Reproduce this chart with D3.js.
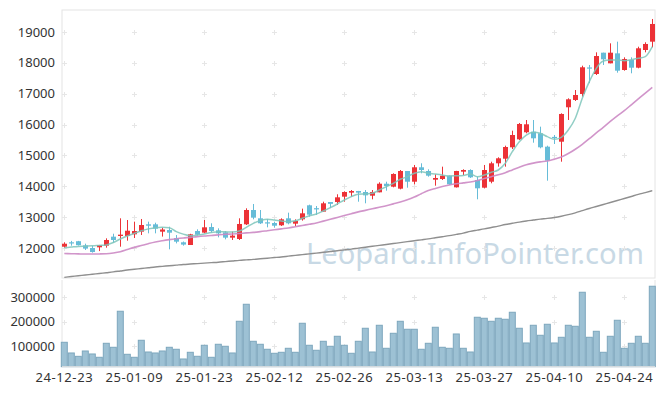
<!DOCTYPE html>
<html>
<head>
<meta charset="utf-8">
<script src="https://cdn.jsdelivr.net/npm/d3@7"></script>
<style>
html,body{margin:0;padding:0;background:#fff;}
svg{display:block;}
text{font-family:"Noto Sans","Open Sans",sans-serif;fill:#333;}
</style>
</head>
<body>
<svg id="chart" width="665" height="396"></svg>
<script>
const dates = ["24-12-23","24-12-24","24-12-26","24-12-27","24-12-30","25-01-02","25-01-03","25-01-06","25-01-07","25-01-08",
"25-01-09","25-01-10","25-01-13","25-01-14","25-01-15","25-01-16","25-01-17","25-01-20","25-01-21","25-01-22",
"25-01-23","25-01-24","25-01-31","25-02-03","25-02-04","25-02-05","25-02-06","25-02-07","25-02-10","25-02-11",
"25-02-12","25-02-13","25-02-14","25-02-17","25-02-18","25-02-19","25-02-20","25-02-21","25-02-24","25-02-25",
"25-02-26","25-02-27","25-02-28","25-03-04","25-03-05","25-03-06","25-03-07","25-03-10","25-03-11","25-03-12",
"25-03-13","25-03-14","25-03-17","25-03-18","25-03-19","25-03-20","25-03-21","25-03-24","25-03-25","25-03-26",
"25-03-27","25-03-28","25-03-31","25-04-01","25-04-02","25-04-03","25-04-04","25-04-07","25-04-08","25-04-09",
"25-04-10","25-04-11","25-04-14","25-04-15","25-04-16","25-04-17","25-04-18","25-04-21","25-04-22","25-04-23",
"25-04-24","25-04-25","25-04-28","25-04-29","25-04-30"];

const open = [12042,12185,12220,12085,12000,12022,12075,12367,12389,12389,
12443,12529,12767,12767,12529,12583,12320,12185,12097,12550,
12497,12680,12573,12508,12335,12292,12767,13231,12962,12832,
12810,12735,12962,12788,12929,13383,13290,13178,13490,13490,
13663,13793,13847,13814,13695,13804,14083,13986,13922,14495,
14148,14615,14495,14213,14236,14343,13966,14472,14527,14203,
13954,14148,14744,14893,15262,15521,15749,15769,15716,15283,
15600,15444,16559,16796,16990,17850,17638,18328,17983,18307,
17767,18091,17842,18415,18685];
const high = [12185,12230,12230,12140,12065,12100,12313,12463,12962,12907,
12853,12940,12853,12820,12660,12690,12420,12210,12460,12605,
12907,12800,12637,12550,12530,12962,13286,13426,13231,12940,
12853,12962,13145,12929,13275,13404,13361,13500,13490,13740,
13836,13879,13850,13879,13879,14129,14148,14420,14527,14495,
14690,14744,14550,14388,14635,14350,14500,14550,14550,14310,
14690,14796,14939,15315,15801,16050,16147,16147,15931,15315,
15661,16364,16850,17119,17907,17930,18340,18328,18631,18685,
18178,18178,18522,18665,19420];
const low = [12010,12075,12080,11935,11850,11900,12010,12172,12042,12237,
12324,12421,12475,12475,12370,11957,12150,12075,12097,12400,
12475,12497,12346,12280,12260,12260,12745,12929,12778,12670,
12658,12713,12767,12713,12886,13015,13070,13178,13290,13393,
13500,13663,13500,13448,13577,13804,13857,13966,13900,13954,
14063,14420,14310,14019,14203,14040,13960,14365,14270,13578,
13934,14096,14635,14635,15208,15500,15716,15412,15230,14181,
15370,14796,16147,16763,16902,17340,17605,17929,17983,17680,
17745,17660,17822,18340,18502];
const close = [12139,12150,12090,11980,11870,12097,12259,12259,12432,12560,
12550,12745,12722,12625,12600,12496,12205,12110,12443,12430,
12670,12550,12475,12335,12400,12778,13231,12983,12800,12810,
12722,12929,12800,12875,13124,13080,13270,13448,13430,13642,
13814,13847,13793,13706,13814,14083,14009,14398,14495,14148,
14615,14527,14343,14268,14343,14063,14495,14527,14290,13934,
14527,14744,14906,15272,15661,16018,16008,15554,15262,14829,
15560,16342,16818,16957,17855,17825,18220,18113,18328,17745,
18124,17842,18470,18610,19258];
const volume = [116300,72700,59000,80800,68600,55100,112200,95900,242900,67300,
55100,124500,76700,72700,80800,95900,87800,48200,75500,59200,
104100,55100,108200,100000,72700,202000,271400,120400,108200,87800,
71400,75500,91800,75500,193900,104100,83700,120400,100000,140800,
104100,71400,120400,173500,76700,185700,91800,153000,202000,169400,
169400,87800,112200,177600,95900,91800,150200,91800,76700,218400,
214300,202000,214300,210200,238800,173500,113500,185700,144900,189800,
113500,136700,185700,181600,320400,136700,161200,75500,140800,206100,
91800,112200,140800,112200,344900];
const ma5 = [12010,12030,12050,12060,12070,12085,12100,12180,12290,12390,
12475,12560,12620,12660,12670,12660,12530,12450,12400,12420,
12455,12500,12530,12525,12518,12550,12670,12800,12885,12930,
12907,12875,12853,12880,12962,13045,13102,13199,13307,13426,
13555,13663,13740,13750,13772,13879,13986,14096,14226,14310,
14420,14472,14420,14400,14365,14333,14340,14350,14398,14310,
14365,14453,14527,14744,15120,15444,15661,15749,15716,15607,
15521,15587,15823,16202,16850,17389,17822,18059,18091,18091,
18070,18100,18145,18200,18522];
const ma20 = [11820,11815,11810,11805,11805,11808,11815,11840,11880,11950,
12020,12080,12140,12194,12235,12270,12300,12325,12345,12370,
12390,12405,12425,12443,12455,12470,12490,12505,12530,12560,
12590,12620,12650,12690,12730,12770,12810,12870,12930,12990,
13050,13110,13170,13220,13270,13320,13370,13430,13490,13560,
13650,13760,13860,13930,13990,14040,14080,14110,14140,14190,
14250,14310,14370,14440,14530,14620,14700,14750,14790,14820,
14880,14950,15060,15200,15360,15540,15730,15910,16100,16280,
16450,16640,16830,17020,17207];
const ma60 = [11050,11075,11100,11125,11150,11175,11200,11225,11255,11285,
11310,11335,11360,11385,11405,11425,11445,11465,11480,11495,
11510,11525,11540,11560,11580,11600,11615,11630,11650,11670,
11690,11710,11735,11760,11785,11810,11835,11860,11885,11910,
11940,11965,11995,12025,12055,12085,12115,12145,12175,12205,
12235,12265,12295,12330,12365,12400,12440,12480,12540,12580,
12620,12665,12710,12760,12800,12840,12875,12905,12935,12960,
12990,13030,13080,13140,13210,13280,13345,13410,13475,13540,
13605,13670,13735,13795,13857];
const priceTicks = [12000,13000,14000,15000,16000,17000,18000,19000];
const volumeTicks = [100000,200000,300000];
const watermark = "Leopard.InfoPointer.com";

const svg = d3.select("#chart");
const L = 62, R = 655;
const pTop = 10, pBot = 278;
const vTop = 280, vBot = 366.7;

const x = d3.scaleBand().domain(dates).range([60.8, 655.8]).padding(0);
const cx = d => x(d) + x.bandwidth() / 2;
const y = d3.scaleLinear().domain([11028, 19711]).range([pBot, pTop]);
const yv = d3.scaleLinear().domain([16700, 350000]).range([vBot, 285]);

const gridColor = "#e6e6e6";
const labelIdx = dates.map((d, i) => i).filter(i => i % 10 === 0);

// watermark (font size fitted to the reference width)
const wm = svg.append("text").attr("x", 306).attr("y", 264)
  .attr("font-size", 32).style("fill", "#c8d9e5").text(watermark);
const wLen = wm.node().getComputedTextLength();
if (wLen > 0) wm.attr("font-size", 32 * 338 / wLen);

// top panel border
svg.append("rect").attr("x", L).attr("y", pTop).attr("width", R - L).attr("height", pBot - pTop)
  .attr("fill", "none").attr("stroke", "#e4e4e4").attr("stroke-width", 1);

// plus-grid markers
function plusGrid(yScale, ticks) {
  const g = svg.append("g");
  labelIdx.forEach(i => {
    ticks.forEach(t => {
      const px = Math.round(cx(dates[i])) + 0.5, py = Math.round(yScale(t)) + 0.5;
      g.append("line").attr("x1", px - 2.5).attr("x2", px + 2.5).attr("y1", py).attr("y2", py).attr("stroke", gridColor);
      g.append("line").attr("x1", px).attr("x2", px).attr("y1", py - 2.5).attr("y2", py + 2.5).attr("stroke", gridColor);
    });
  });
}
plusGrid(y, priceTicks);
plusGrid(yv, volumeTicks);

// y axis labels
const yAxis = d3.axisLeft(y).tickValues(priceTicks).tickSize(0).tickPadding(0).tickFormat(d3.format("d"));
const gy = svg.append("g").attr("transform", `translate(${L - 7},0)`).call(yAxis);
gy.select(".domain").remove();
gy.selectAll("text").attr("font-size", 13).style("font-family", '"Noto Sans",sans-serif').style("fill", "#333");

const vAxis = d3.axisLeft(yv).tickValues(volumeTicks).tickSize(0).tickPadding(0).tickFormat(d3.format("d"));
const gv = svg.append("g").attr("transform", `translate(${L - 7},0)`).call(vAxis);
gv.select(".domain").remove();
gv.selectAll("text").attr("font-size", 13).style("font-family", '"Noto Sans",sans-serif').style("fill", "#333");

// volume panel lines
svg.append("line").attr("x1", L).attr("x2", L).attr("y1", vTop).attr("y2", vBot).attr("stroke", "#e4e4e4");
svg.append("line").attr("x1", R).attr("x2", R).attr("y1", vTop).attr("y2", vBot).attr("stroke", "#e4e4e4");

// volume bars
svg.append("g").selectAll("rect").data(dates).join("rect")
  .attr("x", d => x(d) + 0.5).attr("width", x.bandwidth() - 1)
  .attr("y", (d, i) => yv(volume[i])).attr("height", (d, i) => vBot - yv(volume[i]))
  .attr("fill", "#9dc1d4").attr("stroke", "#7da7bd").attr("stroke-width", 1);

svg.append("line").attr("x1", L).attr("x2", R).attr("y1", vBot).attr("y2", vBot).attr("stroke", "#e4e4e4");

// x axis labels
const xAxis = d3.axisBottom(x).tickValues(labelIdx.map(i => dates[i])).tickSize(0).tickPadding(0);
const gx = svg.append("g").attr("transform", `translate(0,${vBot + 4})`).call(xAxis);
gx.select(".domain").remove();
gx.selectAll("text").attr("font-size", 13).attr("dy", "0.85em").style("letter-spacing", "0.6px")
  .style("font-family", '"Noto Sans",sans-serif').style("fill", "#333");

// candles
const up = "#ec3237", down = "#66bcd8";
const cg = svg.append("g");
dates.forEach((d, i) => {
  const col = close[i] >= open[i] ? up : down;
  const px = Math.round(cx(d)) + 0.5;
  cg.append("line").attr("x1", px).attr("x2", px).attr("y1", y(high[i])).attr("y2", y(low[i]))
    .attr("stroke", col).attr("stroke-width", 1);
  const top = y(Math.max(open[i], close[i])), bot = y(Math.min(open[i], close[i]));
  cg.append("rect").attr("x", px - 2.5).attr("width", 5)
    .attr("y", top).attr("height", Math.max(1.2, bot - top)).attr("fill", col);
});

// moving average lines
const line = arr => d3.line().x((d, i) => cx(d)).y((d, i) => y(arr[i])).curve(d3.curveMonotoneX)(dates);
svg.append("path").attr("d", line(ma60)).attr("fill", "none").attr("stroke", "#8f8f8f").attr("stroke-width", 1.4);
svg.append("path").attr("d", line(ma20)).attr("fill", "none").attr("stroke", "#cc8ac4").attr("stroke-width", 1.6).attr("opacity", 0.9);
svg.append("path").attr("d", line(ma5)).attr("fill", "none").attr("stroke", "#7ec6bb").attr("stroke-width", 1.5).attr("opacity", 0.85);
</script>
</body>
</html>
